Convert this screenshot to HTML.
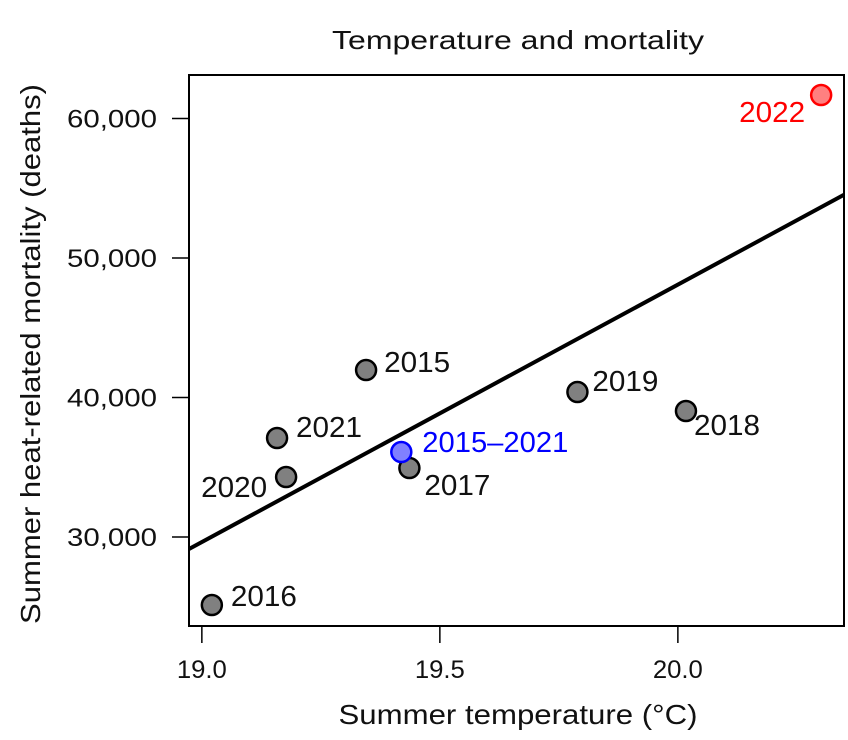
<!DOCTYPE html>
<html><head><meta charset="utf-8"><style>
body{margin:0;background:#fff}
svg{display:block;font-family:"Liberation Sans",sans-serif}
</style></head><body>
<svg id="chart" width="848" height="740" viewBox="0 0 848 740">
<text x="518" y="49" font-size="26" text-anchor="middle" fill="#111" textLength="372" lengthAdjust="spacingAndGlyphs">Temperature and mortality</text>
<text x="518" y="724" font-size="28" text-anchor="middle" fill="#111" textLength="359" lengthAdjust="spacingAndGlyphs">Summer temperature (°C)</text>
<text transform="translate(40,354) rotate(-90)" font-size="28" text-anchor="middle" fill="#111" textLength="540" lengthAdjust="spacingAndGlyphs">Summer heat-related mortality (deaths)</text>
<g id="axes"></g>
<g id="marks"></g>
</svg>
<script>
const years = ["2015","2016","2017","2018","2019","2020","2021","2022","2015–2021"];
const temps = [19.345,19.021,19.436,20.017,19.789,19.177,19.158,20.301,19.419];
const deaths = [41970,25125,34946,39032,40394,34301,37097,61685,36093];
const xTicks = [19.0,19.5,20.0];
const xTickLabels = ["19.0","19.5","20.0"];
const yTicks = [30000,40000,50000,60000];
const yTickLabels = ["30,000","40,000","50,000","60,000"];
const fitIntercept = [29140];
const fitSlope = [18454];
const fitX0 = [18.973];

const L=189,R=844,T=75,B=626;
const xMin=18.973,xMax=20.349,yMin=23620,yMax=63120;
const sx=t=>L+(t-xMin)/(xMax-xMin)*(R-L);
const sy=v=>B-(v-yMin)/(yMax-yMin)*(B-T);
const NS="http://www.w3.org/2000/svg";
function mk(tag,attrs,parent,txt){const e=document.createElementNS(NS,tag);for(const k in attrs)e.setAttribute(k,attrs[k]);if(txt!==undefined)e.textContent=txt;parent.appendChild(e);return e;}
const axes=document.getElementById('axes'),marks=document.getElementById('marks');

const box=mk('rect',{x:L,y:T,width:R-L,height:B-T,fill:'none',stroke:'#000','stroke-width':2},axes);


xTicks.forEach((t,i)=>{
  const x=sx(t);
  const ln=mk('line',{x1:x,x2:x,y1:B,y2:643,stroke:'#000','stroke-width':1.5},axes);
  
  
  const tx=mk('text',{x:x,y:678,'font-size':25,'text-anchor':'middle',fill:'#111',textLength:50,lengthAdjust:'spacingAndGlyphs'},axes,xTickLabels[i]);
  
  
});
yTicks.forEach((v,i)=>{
  const y=sy(v);
  const ln=mk('line',{x1:172,x2:L,y1:y,y2:y,stroke:'#000','stroke-width':1.5},axes);
  
  
  const tx=mk('text',{x:157,y:y+9,'font-size':25,'text-anchor':'end',fill:'#111',textLength:90,lengthAdjust:'spacingAndGlyphs'},axes,yTickLabels[i]);
  
  
});
const fx=t=>fitIntercept[0]+fitSlope[0]*(t-fitX0[0]);
const fl=mk('line',{x1:sx(xMin),y1:sy(fx(xMin)),x2:sx(xMax),y2:sy(fx(xMax)),stroke:'#000','stroke-width':4},marks);



const labelDx=[18,19,15,8,15,-19,19,-16,21];
const labelDy=[2,1,27,24,-1,20,-1,27,0];
years.forEach((yr,i)=>{
  const cx=sx(temps[i]),cy=sy(deaths[i]);
  let fill='#808080',stroke='#000',tc='#111';
  if(yr==='2022'){fill='#ff8080';stroke='#ff0000';tc='#ff0000';}
  if(yr==='2015–2021'){fill='#8080ff';stroke='#0000ff';tc='#0000ff';}
  const c=mk('circle',{cx:cx,cy:cy,r:10,fill:fill,stroke:stroke,'stroke-width':2.5},marks);
  
  
  const anchor=labelDx[i]<0?'end':'start';
  const w=yr.length>4?146:66;
  const t=mk('text',{x:cx+labelDx[i],y:cy+labelDy[i],'font-size':29,'text-anchor':anchor,fill:tc,textLength:w,lengthAdjust:'spacingAndGlyphs'},marks,yr);
  
  
});
</script>
</body></html>
